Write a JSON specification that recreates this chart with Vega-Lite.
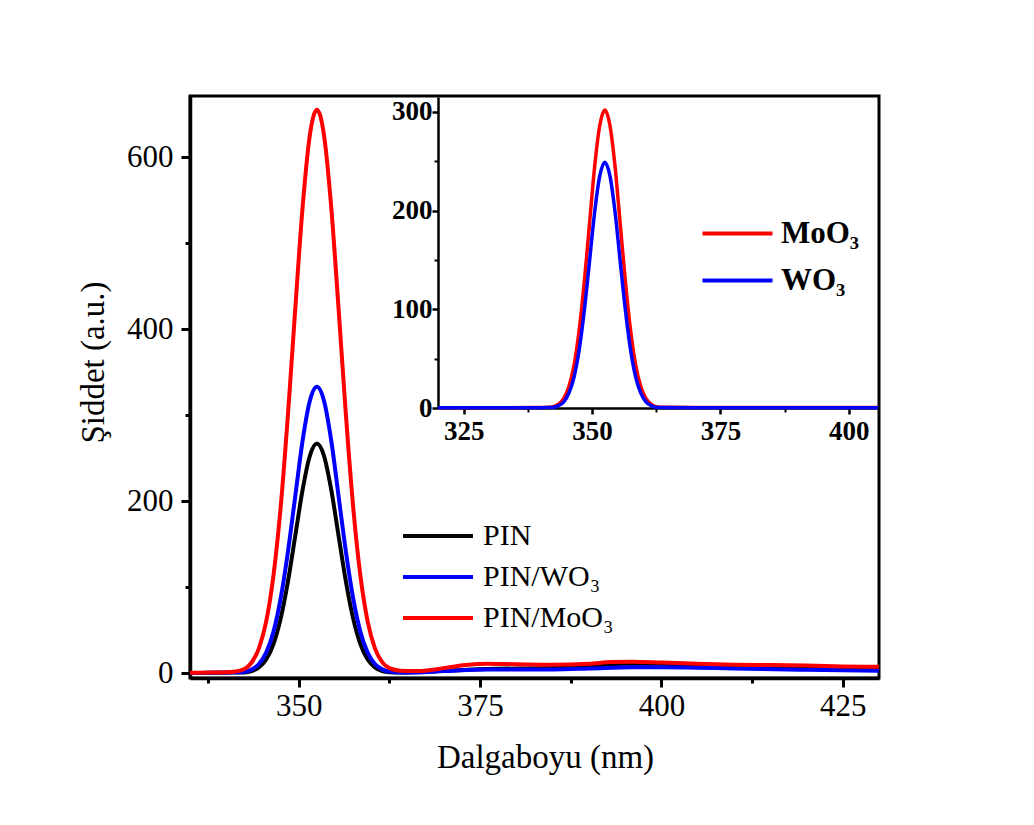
{
  "$schema": "https://vega.github.io/schema/vega-lite/v6.json",
  "autosize": {"type": "none"},
  "width": 689,
  "height": 582,
  "padding": {"left": 190, "top": 96, "right": 155, "bottom": 147},
  "background": "white",
  "config": {"view": {"stroke": "black", "strokeWidth": 3}},
  "datasets": {
    "main": [
      {"s":"PIN","x":335,"y":0.3},{"s":"PIN","x":338,"y":0.5},{"s":"PIN","x":340,"y":0.7},{"s":"PIN","x":342.5,"y":0.9},{"s":"PIN","x":343.5,"y":2.5},{"s":"PIN","x":344.5,"y":6.8},{"s":"PIN","x":345.5,"y":16},{"s":"PIN","x":346.5,"y":33.7},{"s":"PIN","x":347.5,"y":63.5},{"s":"PIN","x":348.5,"y":106.5},{"s":"PIN","x":349.5,"y":159},{"s":"PIN","x":350.5,"y":212},{"s":"PIN","x":351.5,"y":252},{"s":"PIN","x":352.5,"y":267},{"s":"PIN","x":353.5,"y":252},{"s":"PIN","x":354.5,"y":212},{"s":"PIN","x":355.5,"y":159},{"s":"PIN","x":356.5,"y":106.5},{"s":"PIN","x":357.5,"y":63.5},{"s":"PIN","x":358.5,"y":33.7},{"s":"PIN","x":359.5,"y":16},{"s":"PIN","x":360.5,"y":6.8},{"s":"PIN","x":361.5,"y":2.5},{"s":"PIN","x":362.5,"y":1.2},{"s":"PIN","x":364,"y":0.8},{"s":"PIN","x":366,"y":1.2},{"s":"PIN","x":370,"y":3},{"s":"PIN","x":376,"y":5},{"s":"PIN","x":385,"y":6},{"s":"PIN","x":390,"y":8},{"s":"PIN","x":395,"y":11},{"s":"PIN","x":400,"y":11},{"s":"PIN","x":405,"y":10},{"s":"PIN","x":410,"y":8.5},{"s":"PIN","x":420,"y":6.5},{"s":"PIN","x":430,"y":5},
      {"s":"PIN/WO₃","x":335,"y":0.3},{"s":"PIN/WO₃","x":338,"y":0.5},{"s":"PIN/WO₃","x":340,"y":0.8},{"s":"PIN/WO₃","x":341.5,"y":1.2},{"s":"PIN/WO₃","x":342.5,"y":1.6},{"s":"PIN/WO₃","x":343.5,"y":4.3},{"s":"PIN/WO₃","x":344.5,"y":10.7},{"s":"PIN/WO₃","x":345.5,"y":24},{"s":"PIN/WO₃","x":346.5,"y":48},{"s":"PIN/WO₃","x":347.5,"y":87},{"s":"PIN/WO₃","x":348.5,"y":141},{"s":"PIN/WO₃","x":349.5,"y":205},{"s":"PIN/WO₃","x":350.5,"y":269},{"s":"PIN/WO₃","x":351.5,"y":316},{"s":"PIN/WO₃","x":352.5,"y":333},{"s":"PIN/WO₃","x":353.5,"y":316},{"s":"PIN/WO₃","x":354.5,"y":269},{"s":"PIN/WO₃","x":355.5,"y":205},{"s":"PIN/WO₃","x":356.5,"y":141},{"s":"PIN/WO₃","x":357.5,"y":87},{"s":"PIN/WO₃","x":358.5,"y":48},{"s":"PIN/WO₃","x":359.5,"y":24},{"s":"PIN/WO₃","x":360.5,"y":10.7},{"s":"PIN/WO₃","x":361.5,"y":4.5},{"s":"PIN/WO₃","x":362.5,"y":2},{"s":"PIN/WO₃","x":364,"y":1},{"s":"PIN/WO₃","x":366,"y":1},{"s":"PIN/WO₃","x":370,"y":2.5},{"s":"PIN/WO₃","x":376,"y":4.5},{"s":"PIN/WO₃","x":385,"y":4.5},{"s":"PIN/WO₃","x":390,"y":5.5},{"s":"PIN/WO₃","x":396,"y":7},{"s":"PIN/WO₃","x":400,"y":7},{"s":"PIN/WO₃","x":405,"y":6.5},{"s":"PIN/WO₃","x":410,"y":5.5},{"s":"PIN/WO₃","x":420,"y":4},{"s":"PIN/WO₃","x":430,"y":3},
      {"s":"PIN/MoO₃","x":335,"y":0.5},{"s":"PIN/MoO₃","x":338,"y":0.8},{"s":"PIN/MoO₃","x":340,"y":1.2},{"s":"PIN/MoO₃","x":341,"y":1.8},{"s":"PIN/MoO₃","x":342.5,"y":5},{"s":"PIN/MoO₃","x":343.5,"y":12.5},{"s":"PIN/MoO₃","x":344.5,"y":29},{"s":"PIN/MoO₃","x":345.5,"y":60},{"s":"PIN/MoO₃","x":346.5,"y":113},{"s":"PIN/MoO₃","x":347.5,"y":193},{"s":"PIN/MoO₃","x":348.5,"y":300},{"s":"PIN/MoO₃","x":349.5,"y":422},{"s":"PIN/MoO₃","x":350.5,"y":539},{"s":"PIN/MoO₃","x":351.5,"y":624},{"s":"PIN/MoO₃","x":352.5,"y":655},{"s":"PIN/MoO₃","x":353.5,"y":624},{"s":"PIN/MoO₃","x":354.5,"y":539},{"s":"PIN/MoO₃","x":355.5,"y":422},{"s":"PIN/MoO₃","x":356.5,"y":300},{"s":"PIN/MoO₃","x":357.5,"y":193},{"s":"PIN/MoO₃","x":358.5,"y":113},{"s":"PIN/MoO₃","x":359.5,"y":60},{"s":"PIN/MoO₃","x":360.5,"y":29},{"s":"PIN/MoO₃","x":361.5,"y":13},{"s":"PIN/MoO₃","x":362.5,"y":6},{"s":"PIN/MoO₃","x":364,"y":3},{"s":"PIN/MoO₃","x":366,"y":2.5},{"s":"PIN/MoO₃","x":368,"y":3.5},{"s":"PIN/MoO₃","x":370,"y":6},{"s":"PIN/MoO₃","x":373,"y":9.5},{"s":"PIN/MoO₃","x":376,"y":11},{"s":"PIN/MoO₃","x":380,"y":10.5},{"s":"PIN/MoO₃","x":385,"y":10},{"s":"PIN/MoO₃","x":390,"y":11},{"s":"PIN/MoO₃","x":393,"y":13},{"s":"PIN/MoO₃","x":396,"y":13.5},{"s":"PIN/MoO₃","x":400,"y":12.5},{"s":"PIN/MoO₃","x":405,"y":11},{"s":"PIN/MoO₃","x":410,"y":10},{"s":"PIN/MoO₃","x":415,"y":9.5},{"s":"PIN/MoO₃","x":420,"y":9},{"s":"PIN/MoO₃","x":425,"y":8},{"s":"PIN/MoO₃","x":430,"y":7.5}
    ],
    "inset": [
      {"s":"MoO₃","x":320,"y":0.3},{"s":"MoO₃","x":330,"y":0.3},{"s":"MoO₃","x":338,"y":0.4},{"s":"MoO₃","x":341,"y":0.6},{"s":"MoO₃","x":342.5,"y":1.4},{"s":"MoO₃","x":343.5,"y":3.9},{"s":"MoO₃","x":344.5,"y":9.7},{"s":"MoO₃","x":345.5,"y":21.7},{"s":"MoO₃","x":346.5,"y":43.5},{"s":"MoO₃","x":347.5,"y":79},{"s":"MoO₃","x":348.5,"y":128},{"s":"MoO₃","x":349.5,"y":186},{"s":"MoO₃","x":350.5,"y":244},{"s":"MoO₃","x":351.5,"y":286},{"s":"MoO₃","x":352.5,"y":302},{"s":"MoO₃","x":353.5,"y":286},{"s":"MoO₃","x":354.5,"y":244},{"s":"MoO₃","x":355.5,"y":186},{"s":"MoO₃","x":356.5,"y":128},{"s":"MoO₃","x":357.5,"y":79},{"s":"MoO₃","x":358.5,"y":43.5},{"s":"MoO₃","x":359.5,"y":21.7},{"s":"MoO₃","x":360.5,"y":9.7},{"s":"MoO₃","x":361.5,"y":3.9},{"s":"MoO₃","x":362.5,"y":1.4},{"s":"MoO₃","x":364,"y":0.7},{"s":"MoO₃","x":370,"y":0.5},{"s":"MoO₃","x":380,"y":0.4},{"s":"MoO₃","x":390,"y":0.4},{"s":"MoO₃","x":405.7,"y":0.4},
      {"s":"WO₃","x":320,"y":0.2},{"s":"WO₃","x":330,"y":0.2},{"s":"WO₃","x":338,"y":0.3},{"s":"WO₃","x":341,"y":0.4},{"s":"WO₃","x":342.5,"y":0.8},{"s":"WO₃","x":343.5,"y":2.4},{"s":"WO₃","x":344.5,"y":6.3},{"s":"WO₃","x":345.5,"y":15},{"s":"WO₃","x":346.5,"y":31.4},{"s":"WO₃","x":347.5,"y":59},{"s":"WO₃","x":348.5,"y":99},{"s":"WO₃","x":349.5,"y":148},{"s":"WO₃","x":350.5,"y":198},{"s":"WO₃","x":351.5,"y":235},{"s":"WO₃","x":352.5,"y":249},{"s":"WO₃","x":353.5,"y":235},{"s":"WO₃","x":354.5,"y":198},{"s":"WO₃","x":355.5,"y":148},{"s":"WO₃","x":356.5,"y":99},{"s":"WO₃","x":357.5,"y":59},{"s":"WO₃","x":358.5,"y":31.4},{"s":"WO₃","x":359.5,"y":15},{"s":"WO₃","x":360.5,"y":6.3},{"s":"WO₃","x":361.5,"y":2.4},{"s":"WO₃","x":362.5,"y":0.8},{"s":"WO₃","x":364,"y":0.4},{"s":"WO₃","x":370,"y":0.3},{"s":"WO₃","x":380,"y":0.3},{"s":"WO₃","x":390,"y":0.3},{"s":"WO₃","x":405.7,"y":0.3}
    ]
  },
  "layer": [
    {
      "data": {"name": "main"},
      "mark": {"type": "line", "opacity": 0},
      "encoding": {
        "x": {"field": "x", "type": "quantitative", "scale": {"domain": [335, 430], "nice": false, "zero": false},
          "axis": {"orient": "bottom", "values": [337.5, 362.5, 387.5, 412.5], "labels": false, "domain": false, "grid": false, "title": null, "tickSize": 5, "tickWidth": 3, "tickColor": "black"}},
        "y": {"field": "y", "type": "quantitative", "scale": {"domain": [-5.5, 671], "nice": false, "zero": false},
          "axis": {"orient": "left", "values": [100, 300, 500], "labels": false, "domain": false, "grid": false, "title": null, "tickSize": 5, "tickWidth": 3, "tickColor": "black"}}
      }
    },
    {
      "data": {"name": "main"},
      "mark": {"type": "line", "strokeWidth": 4, "interpolate": "monotone"},
      "encoding": {
        "x": {"field": "x", "type": "quantitative", "scale": {"domain": [335, 430], "nice": false, "zero": false},
          "axis": {"orient": "bottom", "values": [350, 375, 400, 425], "grid": false, "labelFont": "Liberation Serif", "labelFontSize": 31, "labelColor": "black", "labelPadding": 4, "labelFlush": false, "labelOverlap": false,
            "tickSize": 9, "tickWidth": 3, "tickColor": "black", "domainColor": "black", "domainWidth": 3.5,
            "title": "Dalgaboyu (nm)", "titleFont": "Liberation Serif", "titleFontSize": 33, "titleFontWeight": "normal", "titleColor": "black", "titleX": 355, "titleY": 89, "titleBaseline": "alphabetic", "titleAlign": "center"}},
        "y": {"field": "y", "type": "quantitative", "scale": {"domain": [-5.5, 671], "nice": false, "zero": false},
          "axis": {"orient": "left", "values": [0, 200, 400, 600], "grid": false, "labelFont": "Liberation Serif", "labelFontSize": 31, "labelColor": "black", "labelPadding": 8, "labelFlush": false, "labelOverlap": false,
            "tickSize": 9, "tickWidth": 3, "tickColor": "black", "domainColor": "black", "domainWidth": 3.5,
            "title": "Şiddet (a.u.)", "titleFont": "Liberation Serif", "titleFontSize": 33, "titleFontWeight": "normal", "titleColor": "black", "titleAngle": -90, "titleX": -87, "titleY": 266, "titleBaseline": "alphabetic", "titleAlign": "center"}},
        "color": {"field": "s", "type": "nominal",
          "scale": {"domain": ["PIN", "PIN/WO₃", "PIN/MoO₃"], "range": ["#000000", "#0000ff", "#ff0000"]},
          "legend": {"orient": "none", "legendX": 261, "legendY": 425, "title": null, "padding": 0, "symbolType": "M-9,0H1", "symbolSize": 196, "symbolStrokeWidth": 4,
            "labelFont": "Liberation Serif", "labelFontSize": 30, "labelColor": "black", "labelOffset": 2, "labelLimit": 400, "rowPadding": 11}}
      }
    },
    {
      "data": {"name": "inset"},
      "mark": {"type": "line", "opacity": 0},
      "encoding": {
        "x": {"field": "x", "type": "quantitative", "scale": {"domain": [320, 405.7], "range": [248, 688], "nice": false, "zero": false},
          "axis": {"orient": "bottom", "offset": -270, "values": [337.5, 362.5, 387.5], "labels": false, "domain": false, "grid": false, "title": null, "tickSize": 4, "tickWidth": 2, "tickColor": "black"}},
        "y": {"field": "y", "type": "quantitative", "scale": {"domain": [0, 315.2], "range": [312, 1], "nice": false, "zero": false},
          "axis": {"orient": "left", "offset": -248, "values": [50, 150, 250], "labels": false, "domain": false, "grid": false, "title": null, "tickSize": 4, "tickWidth": 2, "tickColor": "black"}}
      }
    },
    {
      "data": {"name": "inset"},
      "mark": {"type": "line", "strokeWidth": 3.5, "interpolate": "monotone"},
      "encoding": {
        "x": {"field": "x", "type": "quantitative", "scale": {"domain": [320, 405.7], "range": [248, 688], "nice": false, "zero": false},
          "axis": {"orient": "bottom", "offset": -270, "values": [325, 350, 375, 400], "grid": false, "title": null, "labelFont": "Liberation Serif", "labelFontSize": 27, "labelFontWeight": "bold", "labelColor": "black", "labelPadding": 4, "labelFlush": false, "labelOverlap": false,
            "tickSize": 6, "tickWidth": 2.5, "tickColor": "black", "domainColor": "black", "domainWidth": 2.5}},
        "y": {"field": "y", "type": "quantitative", "scale": {"domain": [0, 315.2], "range": [312, 1], "nice": false, "zero": false},
          "axis": {"orient": "left", "offset": -248, "values": [0, 100, 200, 300], "grid": false, "title": null, "labelFont": "Liberation Serif", "labelFontSize": 27, "labelFontWeight": "bold", "labelColor": "black", "labelPadding": 0, "labelFlush": false, "labelOverlap": false,
            "tickSize": 6, "tickWidth": 2.5, "tickColor": "black", "domainColor": "black", "domainWidth": 2.5}},
        "color": {"field": "s", "type": "nominal",
          "scale": {"domain": ["MoO₃", "WO₃"], "range": ["#ff0000", "#0000ff"]},
          "legend": {"orient": "none", "legendX": 560, "legendY": 122, "title": null, "padding": 0, "symbolType": "M-9,0H1", "symbolSize": 196, "symbolStrokeWidth": 4,
            "labelFont": "Liberation Serif", "labelFontSize": 31, "labelFontWeight": "bold", "labelColor": "black", "labelOffset": 0, "labelLimit": 400, "rowPadding": 15}}
      }
    }
  ],
  "resolve": {
    "scale": {"x": "independent", "y": "independent", "color": "independent"},
    "axis": {"x": "independent", "y": "independent"},
    "legend": {"color": "independent"}
  }
}
